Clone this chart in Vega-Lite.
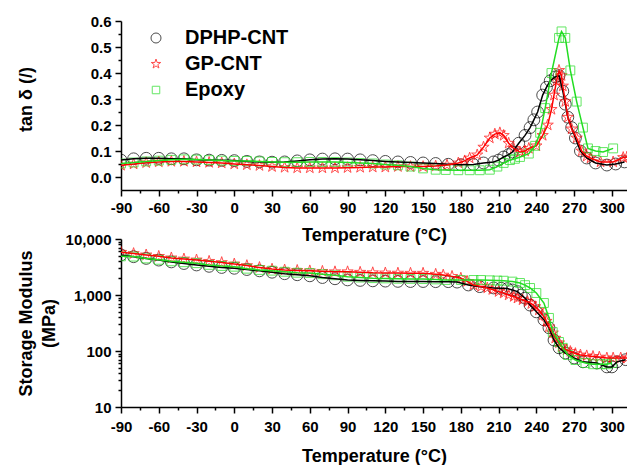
{
  "$schema": "https://vega.github.io/schema/vega-lite/v6.json",
  "padding": {"left": 16, "top": 14, "right": 0, "bottom": 0},
  "bounds": "flush",
  "spacing": 49,
  "config": {
    "font": "Liberation Sans",
    "view": {"stroke": null},
    "axis": {
      "grid": false,
      "labelFont": "Liberation Sans",
      "labelFontWeight": "bold",
      "labelFontSize": 15,
      "labelColor": "#000000",
      "titleFont": "Liberation Sans",
      "titleFontWeight": "bold",
      "titleFontSize": 18,
      "titleColor": "#000000",
      "domainColor": "#000000",
      "domainWidth": 1.5,
      "tickColor": "#000000",
      "tickWidth": 1.5
    },
    "legend": {
      "labelFont": "Liberation Sans",
      "labelFontWeight": "bold",
      "labelFontSize": 20,
      "labelColor": "#000000"
    }
  },
  "datasets": {
    "tan": [
      {"T": -90, "v": 0.065, "s": "DPHP-CNT"}, {"T": -80, "v": 0.07, "s": "DPHP-CNT"}, {"T": -70, "v": 0.072, "s": "DPHP-CNT"}, {"T": -60, "v": 0.072, "s": "DPHP-CNT"}, {"T": -50, "v": 0.07, "s": "DPHP-CNT"}, {"T": -40, "v": 0.07, "s": "DPHP-CNT"}, {"T": -30, "v": 0.066, "s": "DPHP-CNT"}, {"T": -20, "v": 0.065, "s": "DPHP-CNT"}, {"T": -10, "v": 0.064, "s": "DPHP-CNT"}, {"T": 0, "v": 0.063, "s": "DPHP-CNT"}, {"T": 10, "v": 0.06, "s": "DPHP-CNT"}, {"T": 20, "v": 0.058, "s": "DPHP-CNT"}, {"T": 30, "v": 0.057, "s": "DPHP-CNT"}, {"T": 40, "v": 0.058, "s": "DPHP-CNT"}, {"T": 50, "v": 0.062, "s": "DPHP-CNT"}, {"T": 60, "v": 0.066, "s": "DPHP-CNT"}, {"T": 70, "v": 0.069, "s": "DPHP-CNT"}, {"T": 80, "v": 0.07, "s": "DPHP-CNT"}, {"T": 90, "v": 0.069, "s": "DPHP-CNT"}, {"T": 100, "v": 0.066, "s": "DPHP-CNT"}, {"T": 110, "v": 0.063, "s": "DPHP-CNT"}, {"T": 120, "v": 0.06, "s": "DPHP-CNT"}, {"T": 130, "v": 0.058, "s": "DPHP-CNT"}, {"T": 140, "v": 0.056, "s": "DPHP-CNT"}, {"T": 150, "v": 0.054, "s": "DPHP-CNT"}, {"T": 160, "v": 0.052, "s": "DPHP-CNT"}, {"T": 170, "v": 0.049, "s": "DPHP-CNT"}, {"T": 180, "v": 0.047, "s": "DPHP-CNT"}, {"T": 190, "v": 0.048, "s": "DPHP-CNT"}, {"T": 198, "v": 0.054, "s": "DPHP-CNT"}, {"T": 206, "v": 0.058, "s": "DPHP-CNT"}, {"T": 210, "v": 0.065, "s": "DPHP-CNT"}, {"T": 214, "v": 0.077, "s": "DPHP-CNT"}, {"T": 218, "v": 0.086, "s": "DPHP-CNT"}, {"T": 221, "v": 0.096, "s": "DPHP-CNT"}, {"T": 226, "v": 0.13, "s": "DPHP-CNT"}, {"T": 231, "v": 0.16, "s": "DPHP-CNT"}, {"T": 235, "v": 0.19, "s": "DPHP-CNT"}, {"T": 238, "v": 0.22, "s": "DPHP-CNT"}, {"T": 241, "v": 0.25, "s": "DPHP-CNT"}, {"T": 245, "v": 0.315, "s": "DPHP-CNT"}, {"T": 248, "v": 0.345, "s": "DPHP-CNT"}, {"T": 251, "v": 0.37, "s": "DPHP-CNT"}, {"T": 255, "v": 0.385, "s": "DPHP-CNT"}, {"T": 258, "v": 0.39, "s": "DPHP-CNT"}, {"T": 261, "v": 0.33, "s": "DPHP-CNT"}, {"T": 263, "v": 0.28, "s": "DPHP-CNT"}, {"T": 265, "v": 0.23, "s": "DPHP-CNT"}, {"T": 268, "v": 0.19, "s": "DPHP-CNT"}, {"T": 271, "v": 0.15, "s": "DPHP-CNT"}, {"T": 275, "v": 0.1, "s": "DPHP-CNT"}, {"T": 280, "v": 0.073, "s": "DPHP-CNT"}, {"T": 287, "v": 0.054, "s": "DPHP-CNT"}, {"T": 296, "v": 0.046, "s": "DPHP-CNT"}, {"T": 303, "v": 0.05, "s": "DPHP-CNT"}, {"T": 310, "v": 0.058, "s": "DPHP-CNT"},
      {"T": -90, "v": 0.045, "s": "GP-CNT"}, {"T": -80, "v": 0.05, "s": "GP-CNT"}, {"T": -70, "v": 0.055, "s": "GP-CNT"}, {"T": -60, "v": 0.058, "s": "GP-CNT"}, {"T": -50, "v": 0.06, "s": "GP-CNT"}, {"T": -40, "v": 0.06, "s": "GP-CNT"}, {"T": -30, "v": 0.058, "s": "GP-CNT"}, {"T": -20, "v": 0.056, "s": "GP-CNT"}, {"T": -10, "v": 0.054, "s": "GP-CNT"}, {"T": 0, "v": 0.05, "s": "GP-CNT"}, {"T": 10, "v": 0.047, "s": "GP-CNT"}, {"T": 20, "v": 0.044, "s": "GP-CNT"}, {"T": 30, "v": 0.04, "s": "GP-CNT"}, {"T": 40, "v": 0.037, "s": "GP-CNT"}, {"T": 50, "v": 0.035, "s": "GP-CNT"}, {"T": 60, "v": 0.035, "s": "GP-CNT"}, {"T": 70, "v": 0.035, "s": "GP-CNT"}, {"T": 80, "v": 0.035, "s": "GP-CNT"}, {"T": 90, "v": 0.036, "s": "GP-CNT"}, {"T": 100, "v": 0.037, "s": "GP-CNT"}, {"T": 110, "v": 0.038, "s": "GP-CNT"}, {"T": 120, "v": 0.038, "s": "GP-CNT"}, {"T": 130, "v": 0.04, "s": "GP-CNT"}, {"T": 140, "v": 0.04, "s": "GP-CNT"}, {"T": 150, "v": 0.04, "s": "GP-CNT"}, {"T": 160, "v": 0.042, "s": "GP-CNT"}, {"T": 169, "v": 0.046, "s": "GP-CNT"}, {"T": 178, "v": 0.054, "s": "GP-CNT"}, {"T": 183, "v": 0.062, "s": "GP-CNT"}, {"T": 187, "v": 0.073, "s": "GP-CNT"}, {"T": 193, "v": 0.085, "s": "GP-CNT"}, {"T": 198, "v": 0.115, "s": "GP-CNT"}, {"T": 203, "v": 0.15, "s": "GP-CNT"}, {"T": 207, "v": 0.165, "s": "GP-CNT"}, {"T": 211, "v": 0.17, "s": "GP-CNT"}, {"T": 214, "v": 0.16, "s": "GP-CNT"}, {"T": 218, "v": 0.13, "s": "GP-CNT"}, {"T": 222, "v": 0.11, "s": "GP-CNT"}, {"T": 227, "v": 0.096, "s": "GP-CNT"}, {"T": 231, "v": 0.1, "s": "GP-CNT"}, {"T": 234, "v": 0.11, "s": "GP-CNT"}, {"T": 240, "v": 0.12, "s": "GP-CNT"}, {"T": 245, "v": 0.16, "s": "GP-CNT"}, {"T": 249, "v": 0.2, "s": "GP-CNT"}, {"T": 252, "v": 0.26, "s": "GP-CNT"}, {"T": 254, "v": 0.315, "s": "GP-CNT"}, {"T": 256, "v": 0.37, "s": "GP-CNT"}, {"T": 258, "v": 0.41, "s": "GP-CNT"}, {"T": 260, "v": 0.39, "s": "GP-CNT"}, {"T": 261, "v": 0.35, "s": "GP-CNT"}, {"T": 263, "v": 0.29, "s": "GP-CNT"}, {"T": 265, "v": 0.23, "s": "GP-CNT"}, {"T": 268, "v": 0.185, "s": "GP-CNT"}, {"T": 272, "v": 0.15, "s": "GP-CNT"}, {"T": 276, "v": 0.1, "s": "GP-CNT"}, {"T": 280, "v": 0.08, "s": "GP-CNT"}, {"T": 283, "v": 0.073, "s": "GP-CNT"}, {"T": 291, "v": 0.058, "s": "GP-CNT"}, {"T": 301, "v": 0.058, "s": "GP-CNT"}, {"T": 309, "v": 0.075, "s": "GP-CNT"}, {"T": 312, "v": 0.077, "s": "GP-CNT"},
      {"T": -90, "v": 0.052, "s": "Epoxy"}, {"T": -80, "v": 0.056, "s": "Epoxy"}, {"T": -70, "v": 0.06, "s": "Epoxy"}, {"T": -60, "v": 0.063, "s": "Epoxy"}, {"T": -50, "v": 0.066, "s": "Epoxy"}, {"T": -40, "v": 0.068, "s": "Epoxy"}, {"T": -30, "v": 0.067, "s": "Epoxy"}, {"T": -20, "v": 0.065, "s": "Epoxy"}, {"T": -10, "v": 0.063, "s": "Epoxy"}, {"T": 0, "v": 0.062, "s": "Epoxy"}, {"T": 10, "v": 0.062, "s": "Epoxy"}, {"T": 20, "v": 0.06, "s": "Epoxy"}, {"T": 30, "v": 0.058, "s": "Epoxy"}, {"T": 40, "v": 0.057, "s": "Epoxy"}, {"T": 50, "v": 0.057, "s": "Epoxy"}, {"T": 60, "v": 0.058, "s": "Epoxy"}, {"T": 70, "v": 0.058, "s": "Epoxy"}, {"T": 80, "v": 0.058, "s": "Epoxy"}, {"T": 90, "v": 0.056, "s": "Epoxy"}, {"T": 100, "v": 0.054, "s": "Epoxy"}, {"T": 110, "v": 0.052, "s": "Epoxy"}, {"T": 120, "v": 0.048, "s": "Epoxy"}, {"T": 130, "v": 0.045, "s": "Epoxy"}, {"T": 140, "v": 0.04, "s": "Epoxy"}, {"T": 150, "v": 0.033, "s": "Epoxy"}, {"T": 160, "v": 0.028, "s": "Epoxy"}, {"T": 168, "v": 0.027, "s": "Epoxy"}, {"T": 178, "v": 0.026, "s": "Epoxy"}, {"T": 187, "v": 0.026, "s": "Epoxy"}, {"T": 195, "v": 0.026, "s": "Epoxy"}, {"T": 203, "v": 0.028, "s": "Epoxy"}, {"T": 209, "v": 0.04, "s": "Epoxy"}, {"T": 214, "v": 0.054, "s": "Epoxy"}, {"T": 219, "v": 0.065, "s": "Epoxy"}, {"T": 223, "v": 0.07, "s": "Epoxy"}, {"T": 227, "v": 0.077, "s": "Epoxy"}, {"T": 234, "v": 0.09, "s": "Epoxy"}, {"T": 239, "v": 0.12, "s": "Epoxy"}, {"T": 243, "v": 0.17, "s": "Epoxy"}, {"T": 247, "v": 0.265, "s": "Epoxy"}, {"T": 252, "v": 0.4, "s": "Epoxy"}, {"T": 258, "v": 0.535, "s": "Epoxy"}, {"T": 260, "v": 0.56, "s": "Epoxy"}, {"T": 263, "v": 0.535, "s": "Epoxy"}, {"T": 267, "v": 0.41, "s": "Epoxy"}, {"T": 272, "v": 0.29, "s": "Epoxy"}, {"T": 277, "v": 0.19, "s": "Epoxy"}, {"T": 281, "v": 0.11, "s": "Epoxy"}, {"T": 287, "v": 0.1, "s": "Epoxy"}, {"T": 293, "v": 0.096, "s": "Epoxy"}, {"T": 301, "v": 0.11, "s": "Epoxy"}
    ],
    "mod": [
      {"T": -90, "v": 5200, "s": "DPHP-CNT"}, {"T": -80, "v": 4830, "s": "DPHP-CNT"}, {"T": -70, "v": 4500, "s": "DPHP-CNT"}, {"T": -60, "v": 4200, "s": "DPHP-CNT"}, {"T": -50, "v": 3900, "s": "DPHP-CNT"}, {"T": -40, "v": 3650, "s": "DPHP-CNT"}, {"T": -30, "v": 3440, "s": "DPHP-CNT"}, {"T": -20, "v": 3250, "s": "DPHP-CNT"}, {"T": -10, "v": 3100, "s": "DPHP-CNT"}, {"T": 0, "v": 3000, "s": "DPHP-CNT"}, {"T": 10, "v": 2850, "s": "DPHP-CNT"}, {"T": 20, "v": 2700, "s": "DPHP-CNT"}, {"T": 30, "v": 2550, "s": "DPHP-CNT"}, {"T": 40, "v": 2400, "s": "DPHP-CNT"}, {"T": 50, "v": 2300, "s": "DPHP-CNT"}, {"T": 60, "v": 2200, "s": "DPHP-CNT"}, {"T": 70, "v": 2050, "s": "DPHP-CNT"}, {"T": 80, "v": 1950, "s": "DPHP-CNT"}, {"T": 90, "v": 1860, "s": "DPHP-CNT"}, {"T": 100, "v": 1820, "s": "DPHP-CNT"}, {"T": 110, "v": 1790, "s": "DPHP-CNT"}, {"T": 120, "v": 1770, "s": "DPHP-CNT"}, {"T": 130, "v": 1750, "s": "DPHP-CNT"}, {"T": 140, "v": 1740, "s": "DPHP-CNT"}, {"T": 150, "v": 1740, "s": "DPHP-CNT"}, {"T": 160, "v": 1730, "s": "DPHP-CNT"}, {"T": 170, "v": 1730, "s": "DPHP-CNT"}, {"T": 177, "v": 1700, "s": "DPHP-CNT"}, {"T": 186, "v": 1510, "s": "DPHP-CNT"}, {"T": 195, "v": 1410, "s": "DPHP-CNT"}, {"T": 206, "v": 1335, "s": "DPHP-CNT"}, {"T": 212, "v": 1320, "s": "DPHP-CNT"}, {"T": 217, "v": 1300, "s": "DPHP-CNT"}, {"T": 221, "v": 1230, "s": "DPHP-CNT"}, {"T": 225, "v": 1150, "s": "DPHP-CNT"}, {"T": 228, "v": 1000, "s": "DPHP-CNT"}, {"T": 231, "v": 880, "s": "DPHP-CNT"}, {"T": 235, "v": 660, "s": "DPHP-CNT"}, {"T": 240, "v": 500, "s": "DPHP-CNT"}, {"T": 246, "v": 360, "s": "DPHP-CNT"}, {"T": 250, "v": 260, "s": "DPHP-CNT"}, {"T": 254, "v": 157, "s": "DPHP-CNT"}, {"T": 258, "v": 114, "s": "DPHP-CNT"}, {"T": 263, "v": 92, "s": "DPHP-CNT"}, {"T": 270, "v": 75, "s": "DPHP-CNT"}, {"T": 277, "v": 64, "s": "DPHP-CNT"}, {"T": 288, "v": 61, "s": "DPHP-CNT"}, {"T": 296, "v": 52, "s": "DPHP-CNT"}, {"T": 300, "v": 52, "s": "DPHP-CNT"}, {"T": 304, "v": 64, "s": "DPHP-CNT"}, {"T": 311, "v": 70, "s": "DPHP-CNT"},
      {"T": -90, "v": 5800, "s": "GP-CNT"}, {"T": -80, "v": 5500, "s": "GP-CNT"}, {"T": -70, "v": 5200, "s": "GP-CNT"}, {"T": -60, "v": 4900, "s": "GP-CNT"}, {"T": -50, "v": 4600, "s": "GP-CNT"}, {"T": -40, "v": 4400, "s": "GP-CNT"}, {"T": -30, "v": 4230, "s": "GP-CNT"}, {"T": -20, "v": 4000, "s": "GP-CNT"}, {"T": -10, "v": 3800, "s": "GP-CNT"}, {"T": 0, "v": 3580, "s": "GP-CNT"}, {"T": 10, "v": 3350, "s": "GP-CNT"}, {"T": 20, "v": 3100, "s": "GP-CNT"}, {"T": 30, "v": 2900, "s": "GP-CNT"}, {"T": 40, "v": 2800, "s": "GP-CNT"}, {"T": 50, "v": 2750, "s": "GP-CNT"}, {"T": 60, "v": 2700, "s": "GP-CNT"}, {"T": 70, "v": 2650, "s": "GP-CNT"}, {"T": 80, "v": 2600, "s": "GP-CNT"}, {"T": 90, "v": 2600, "s": "GP-CNT"}, {"T": 100, "v": 2550, "s": "GP-CNT"}, {"T": 110, "v": 2500, "s": "GP-CNT"}, {"T": 120, "v": 2480, "s": "GP-CNT"}, {"T": 130, "v": 2460, "s": "GP-CNT"}, {"T": 140, "v": 2450, "s": "GP-CNT"}, {"T": 150, "v": 2450, "s": "GP-CNT"}, {"T": 160, "v": 2350, "s": "GP-CNT"}, {"T": 166, "v": 2270, "s": "GP-CNT"}, {"T": 173, "v": 2150, "s": "GP-CNT"}, {"T": 180, "v": 2000, "s": "GP-CNT"}, {"T": 185, "v": 1750, "s": "GP-CNT"}, {"T": 190, "v": 1510, "s": "GP-CNT"}, {"T": 196, "v": 1420, "s": "GP-CNT"}, {"T": 201, "v": 1335, "s": "GP-CNT"}, {"T": 205, "v": 1250, "s": "GP-CNT"}, {"T": 210, "v": 1150, "s": "GP-CNT"}, {"T": 214, "v": 1080, "s": "GP-CNT"}, {"T": 218, "v": 1000, "s": "GP-CNT"}, {"T": 222, "v": 940, "s": "GP-CNT"}, {"T": 225, "v": 880, "s": "GP-CNT"}, {"T": 229, "v": 820, "s": "GP-CNT"}, {"T": 233, "v": 760, "s": "GP-CNT"}, {"T": 236, "v": 700, "s": "GP-CNT"}, {"T": 239, "v": 620, "s": "GP-CNT"}, {"T": 242, "v": 540, "s": "GP-CNT"}, {"T": 245, "v": 440, "s": "GP-CNT"}, {"T": 248, "v": 340, "s": "GP-CNT"}, {"T": 250, "v": 270, "s": "GP-CNT"}, {"T": 253, "v": 210, "s": "GP-CNT"}, {"T": 255, "v": 170, "s": "GP-CNT"}, {"T": 258, "v": 140, "s": "GP-CNT"}, {"T": 260, "v": 120, "s": "GP-CNT"}, {"T": 264, "v": 105, "s": "GP-CNT"}, {"T": 267, "v": 98, "s": "GP-CNT"}, {"T": 271, "v": 90, "s": "GP-CNT"}, {"T": 275, "v": 85, "s": "GP-CNT"}, {"T": 280, "v": 82, "s": "GP-CNT"}, {"T": 285, "v": 80, "s": "GP-CNT"}, {"T": 290, "v": 78, "s": "GP-CNT"}, {"T": 296, "v": 75, "s": "GP-CNT"}, {"T": 301, "v": 75, "s": "GP-CNT"}, {"T": 307, "v": 75, "s": "GP-CNT"}, {"T": 312, "v": 75, "s": "GP-CNT"},
      {"T": -90, "v": 4900, "s": "Epoxy"}, {"T": -80, "v": 4850, "s": "Epoxy"}, {"T": -70, "v": 4500, "s": "Epoxy"}, {"T": -60, "v": 4250, "s": "Epoxy"}, {"T": -50, "v": 4000, "s": "Epoxy"}, {"T": -40, "v": 3850, "s": "Epoxy"}, {"T": -30, "v": 3700, "s": "Epoxy"}, {"T": -20, "v": 3450, "s": "Epoxy"}, {"T": -10, "v": 3300, "s": "Epoxy"}, {"T": 0, "v": 3200, "s": "Epoxy"}, {"T": 10, "v": 2950, "s": "Epoxy"}, {"T": 20, "v": 2800, "s": "Epoxy"}, {"T": 30, "v": 2720, "s": "Epoxy"}, {"T": 40, "v": 2600, "s": "Epoxy"}, {"T": 50, "v": 2500, "s": "Epoxy"}, {"T": 60, "v": 2470, "s": "Epoxy"}, {"T": 70, "v": 2350, "s": "Epoxy"}, {"T": 80, "v": 2250, "s": "Epoxy"}, {"T": 90, "v": 2120, "s": "Epoxy"}, {"T": 100, "v": 2050, "s": "Epoxy"}, {"T": 110, "v": 2000, "s": "Epoxy"}, {"T": 120, "v": 1980, "s": "Epoxy"}, {"T": 130, "v": 1950, "s": "Epoxy"}, {"T": 140, "v": 1940, "s": "Epoxy"}, {"T": 150, "v": 1930, "s": "Epoxy"}, {"T": 160, "v": 1900, "s": "Epoxy"}, {"T": 168, "v": 1855, "s": "Epoxy"}, {"T": 180, "v": 1855, "s": "Epoxy"}, {"T": 190, "v": 1855, "s": "Epoxy"}, {"T": 196, "v": 1855, "s": "Epoxy"}, {"T": 203, "v": 1830, "s": "Epoxy"}, {"T": 209, "v": 1810, "s": "Epoxy"}, {"T": 214, "v": 1800, "s": "Epoxy"}, {"T": 221, "v": 1735, "s": "Epoxy"}, {"T": 227, "v": 1640, "s": "Epoxy"}, {"T": 231, "v": 1500, "s": "Epoxy"}, {"T": 235, "v": 1335, "s": "Epoxy"}, {"T": 240, "v": 1085, "s": "Epoxy"}, {"T": 246, "v": 720, "s": "Epoxy"}, {"T": 250, "v": 390, "s": "Epoxy"}, {"T": 253, "v": 218, "s": "Epoxy"}, {"T": 258, "v": 145, "s": "Epoxy"}, {"T": 261, "v": 114, "s": "Epoxy"}, {"T": 265, "v": 85, "s": "Epoxy"}, {"T": 271, "v": 69, "s": "Epoxy"}, {"T": 279, "v": 61, "s": "Epoxy"}, {"T": 285, "v": 58, "s": "Epoxy"}, {"T": 291, "v": 58, "s": "Epoxy"}, {"T": 296, "v": 58, "s": "Epoxy"}, {"T": 300, "v": 61, "s": "Epoxy"}
    ]
  },
  "vconcat": [
    {
      "width": 506,
      "height": 169,
      "data": {"name": "tan"},
      "encoding": {
        "x": {
          "field": "T", "type": "quantitative",
          "scale": {"domain": [-90, 312], "nice": false, "zero": false},
          "axis": {
            "title": "Temperature (°C)",
            "values": [-90, -75, -60, -45, -30, -15, 0, 15, 30, 45, 60, 75, 90, 105, 120, 135, 150, 165, 180, 195, 210, 225, 240, 255, 270, 285, 300],
            "labelExpr": "datum.value % 30 === 0 ? '' + datum.value : ''",
            "tickSize": {"condition": {"test": "datum.value % 30 === 0", "value": 6}, "value": 3},
            "labelPadding": 4,
            "titlePadding": 11,
            "labelFlush": false,
            "labelOverlap": false
          }
        },
        "y": {
          "field": "v", "type": "quantitative",
          "scale": {"domain": [-0.05, 0.6], "nice": false, "zero": false},
          "axis": {
            "title": "tan δ (/)",
            "values": [0, 0.05, 0.1, 0.15, 0.2, 0.25, 0.3, 0.35, 0.4, 0.45, 0.5, 0.55, 0.6],
            "labelExpr": "round(datum.value * 100) % 10 === 0 ? format(datum.value, '.1f') : ''",
            "tickSize": {"condition": {"test": "round(datum.value * 100) % 10 === 0", "value": 6}, "value": 3},
            "labelPadding": 4,
            "titleBaseline": "middle",
            "titleAngle": -90,
            "titleX": -95,
            "titleY": 78,
            "labelFlush": false,
            "labelOverlap": false
          }
        }
      },
      "layer": [
        {
          "mark": {"type": "point", "filled": false, "strokeWidth": 1, "size": 140, "clip": true},
          "encoding": {
            "color": {
              "field": "s", "type": "nominal",
              "scale": {"domain": ["DPHP-CNT", "GP-CNT", "Epoxy"], "range": ["#000000", "#ff0000", "#22dd22"]},
              "legend": {"title": null, "orient": "none", "legendX": 25, "legendY": 7, "padding": 0, "rowPadding": 6, "labelOffset": 19, "symbolSize": 100, "symbolStrokeWidth": 1}
            },
            "shape": {
              "field": "s", "type": "nominal",
              "scale": {"domain": ["DPHP-CNT", "GP-CNT", "Epoxy"], "range": ["circle", "M0,-1L0.2245,-0.309L0.951,-0.309L0.363,0.118L0.588,0.809L0,0.382L-0.588,0.809L-0.363,0.118L-0.951,-0.309L-0.2245,-0.309Z", "M-0.75,-0.75L0.75,-0.75L0.75,0.75L-0.75,0.75Z"]},
              "legend": {"title": null, "orient": "none", "legendX": 25, "legendY": 7, "padding": 0, "rowPadding": 6, "labelOffset": 19, "symbolSize": 100, "symbolStrokeWidth": 1}
            }
          }
        },
        {
          "mark": {"type": "line", "strokeWidth": 1.5, "clip": true},
          "encoding": {
            "color": {"field": "s", "type": "nominal", "scale": {"domain": ["DPHP-CNT", "GP-CNT", "Epoxy"], "range": ["#000000", "#ff0000", "#22dd22"]}, "legend": null}
          }
        }
      ]
    },
    {
      "width": 506,
      "height": 168,
      "data": {"name": "mod"},
      "encoding": {
        "x": {
          "field": "T", "type": "quantitative",
          "scale": {"domain": [-90, 312], "nice": false, "zero": false},
          "axis": {
            "title": "Temperature (°C)",
            "values": [-90, -75, -60, -45, -30, -15, 0, 15, 30, 45, 60, 75, 90, 105, 120, 135, 150, 165, 180, 195, 210, 225, 240, 255, 270, 285, 300],
            "labelExpr": "datum.value % 30 === 0 ? '' + datum.value : ''",
            "tickSize": {"condition": {"test": "datum.value % 30 === 0", "value": 6}, "value": 3},
            "labelPadding": 6,
            "titlePadding": 13,
            "labelFlush": false,
            "labelOverlap": false
          }
        },
        "y": {
          "field": "v", "type": "quantitative",
          "scale": {"type": "log", "domain": [10, 10000], "nice": false},
          "axis": {
            "title": ["Storage Modulus", "(MPa)"],
            "values": [10, 20, 30, 40, 50, 60, 70, 80, 90, 100, 200, 300, 400, 500, 600, 700, 800, 900, 1000, 2000, 3000, 4000, 5000, 6000, 7000, 8000, 9000, 10000],
            "labelExpr": "indexof([10, 100, 1000, 10000], datum.value) >= 0 ? format(datum.value, ',') : ''",
            "tickSize": {"condition": {"test": "indexof([10, 100, 1000, 10000], datum.value) >= 0", "value": 6}, "value": 3},
            "labelPadding": 4,
            "titleBaseline": "middle",
            "titleAngle": -90,
            "titleLineHeight": 23,
            "titleX": -95,
            "titleY": 84,
            "labelFlush": false,
            "labelOverlap": false
          }
        }
      },
      "layer": [
        {
          "mark": {"type": "point", "filled": false, "strokeWidth": 1, "size": 140, "clip": true},
          "encoding": {
            "color": {"field": "s", "type": "nominal", "scale": {"domain": ["DPHP-CNT", "GP-CNT", "Epoxy"], "range": ["#000000", "#ff0000", "#22dd22"]}, "legend": null},
            "shape": {"field": "s", "type": "nominal", "scale": {"domain": ["DPHP-CNT", "GP-CNT", "Epoxy"], "range": ["circle", "M0,-1L0.2245,-0.309L0.951,-0.309L0.363,0.118L0.588,0.809L0,0.382L-0.588,0.809L-0.363,0.118L-0.951,-0.309L-0.2245,-0.309Z", "M-0.75,-0.75L0.75,-0.75L0.75,0.75L-0.75,0.75Z"]}, "legend": null}
          }
        },
        {
          "mark": {"type": "line", "strokeWidth": 1.5, "clip": true},
          "encoding": {
            "color": {"field": "s", "type": "nominal", "scale": {"domain": ["DPHP-CNT", "GP-CNT", "Epoxy"], "range": ["#000000", "#ff0000", "#22dd22"]}, "legend": null}
          }
        }
      ]
    }
  ]
}
